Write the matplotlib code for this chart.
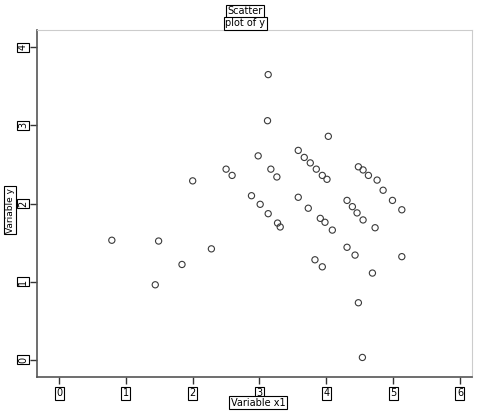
import matplotlib
matplotlib.use("Agg")
from matplotlib import pyplot as plt

# Point values
xValues = [3.13, 3.12, 2.98, 2.00, 2.50, 2.59, 3.17, 3.26, 2.88, 3.01,
	3.13, 3.27, 3.31, 0.79, 1.49, 2.28, 1.84, 1.44, 4.03, 3.58,
	3.67, 3.76, 3.85, 3.94, 4.01, 4.48, 4.55, 4.63, 4.76, 4.85,
	4.99, 5.13, 3.58, 3.73, 3.91, 3.98, 4.09, 4.31, 4.39, 4.46,
	4.55, 4.73, 3.83, 3.94, 4.31, 4.43, 5.13, 4.69, 4.48, 4.54]
yValues = [3.65, 3.06, 2.61, 2.29, 2.44, 2.36, 2.44, 2.34, 2.10, 1.99,
	1.87, 1.75, 1.70, 1.53, 1.52, 1.42, 1.22, 0.96, 2.86, 2.68,
	2.59, 2.52, 2.44, 2.36, 2.31, 2.47, 2.43, 2.36, 2.30, 2.17,
	2.04, 1.92, 2.08, 1.94, 1.81, 1.76, 1.66, 2.04, 1.96, 1.88,
	1.79, 1.69, 1.28, 1.19, 1.44, 1.34, 1.32, 1.11, 0.73, 0.03]

xTicks = [0, 1, 2, 3, 4, 5, 6]
yTicks = [0, 1, 2, 3, 4]

TITLE = "Scatter"
SUBTITLE = "plot of y"
XLABEL = "Variable x1"
YLABEL = "Variable y"

BOX = dict(boxstyle="square,pad=0.15", fc="white", ec="black", lw=0.8)

fig = plt.figure(figsize=(4.78, 4.12), dpi=100)
ax = fig.add_axes([0.0774, 0.085, 0.91, 0.842])

ax.scatter(xValues, yValues, s=20, facecolors="none", edgecolors="#3a3a3a", linewidths=0.8)

ax.set_xlim(-0.33, 6.18)
ax.set_ylim(-0.22, 4.22)
ax.set_xticks(xTicks)
ax.set_yticks(yTicks)
ax.set_xticklabels([str(v) for v in xTicks], fontsize=7, bbox=BOX)
ax.set_yticklabels([str(v) for v in yTicks], fontsize=7, rotation=90, va="center", bbox=BOX)
ax.tick_params(axis="both", direction="out", length=5, width=1, color="#333333")
ax.tick_params(axis="y", pad=1.5)
ax.tick_params(axis="x", pad=3)

for side in ["top", "right"]:
	ax.spines[side].set_color("#cccccc")
	ax.spines[side].set_linewidth(0.8)
for side in ["left", "bottom"]:
	ax.spines[side].set_color("#555555")
	ax.spines[side].set_linewidth(1.2)

fig.text(0.513, 0.973, TITLE, ha="center", va="center", fontsize=7, bbox=BOX)
fig.text(0.513, 0.943, SUBTITLE, ha="center", va="center", fontsize=7, bbox=BOX)
fig.text(0.54, 0.022, XLABEL, ha="center", va="center", fontsize=7, bbox=BOX)
fig.text(0.021, 0.49, YLABEL, ha="center", va="center", fontsize=6.5, rotation=90, bbox=BOX)

fig.savefig("out.png", dpi=100)
